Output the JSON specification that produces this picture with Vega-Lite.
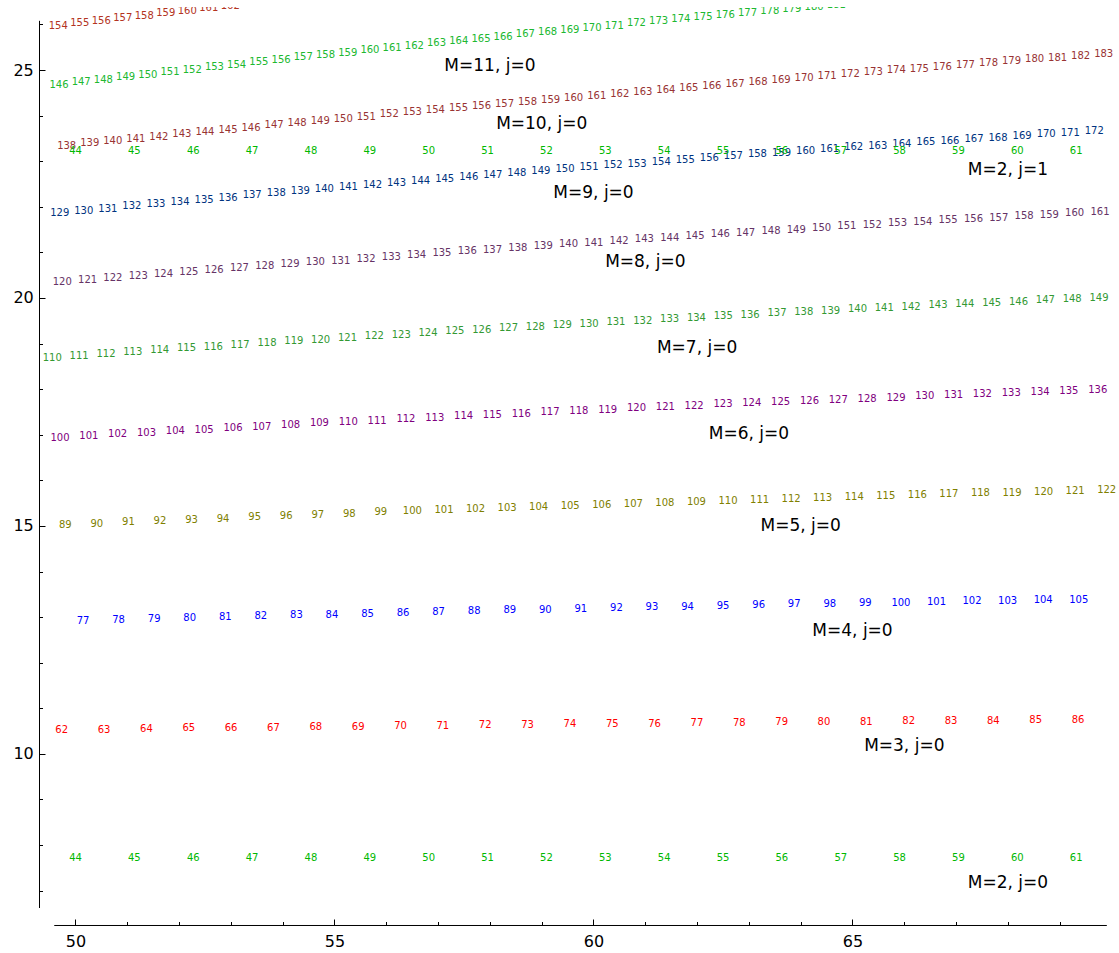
{
"$schema": "https://vega.github.io/schema/vega-lite/v6.json",
"width": 1080, "height": 901,
"autosize": {"type": "none"},
"padding": {"left": 39, "top": 7, "right": 0, "bottom": 45},
"background": "white",
"config": {"view": {"stroke": null}},
"resolve": {"axis": {"x": "independent", "y": "independent"}},
"datasets": {
"nums": [
{"s":"2a","n":44,"x":50.000,"y":7.706},{"s":"2a","n":45,"x":51.136,"y":7.706},{"s":"2a","n":46,"x":52.273,"y":7.706},{"s":"2a","n":47,"x":53.409,"y":7.706},{"s":"2a","n":48,"x":54.545,"y":7.706},{"s":"2a","n":49,"x":55.682,"y":7.706},{"s":"2a","n":50,"x":56.818,"y":7.706},{"s":"2a","n":51,"x":57.955,"y":7.706},{"s":"2a","n":52,"x":59.091,"y":7.706},{"s":"2a","n":53,"x":60.227,"y":7.706},{"s":"2a","n":54,"x":61.364,"y":7.706},{"s":"2a","n":55,"x":62.500,"y":7.706},{"s":"2a","n":56,"x":63.636,"y":7.706},{"s":"2a","n":57,"x":64.773,"y":7.706},{"s":"2a","n":58,"x":65.909,"y":7.706},{"s":"2a","n":59,"x":67.045,"y":7.706},{"s":"2a","n":60,"x":68.182,"y":7.706},{"s":"2a","n":61,"x":69.318,"y":7.706},
{"s":"3","n":62,"x":49.734,"y":10.524},{"s":"3","n":63,"x":50.552,"y":10.535},{"s":"3","n":64,"x":51.369,"y":10.547},{"s":"3","n":65,"x":52.187,"y":10.558},{"s":"3","n":66,"x":53.004,"y":10.569},{"s":"3","n":67,"x":53.822,"y":10.579},{"s":"3","n":68,"x":54.639,"y":10.590},{"s":"3","n":69,"x":55.457,"y":10.600},{"s":"3","n":70,"x":56.274,"y":10.610},{"s":"3","n":71,"x":57.092,"y":10.620},{"s":"3","n":72,"x":57.909,"y":10.629},{"s":"3","n":73,"x":58.727,"y":10.639},{"s":"3","n":74,"x":59.544,"y":10.648},{"s":"3","n":75,"x":60.362,"y":10.657},{"s":"3","n":76,"x":61.179,"y":10.666},{"s":"3","n":77,"x":61.997,"y":10.674},{"s":"3","n":78,"x":62.814,"y":10.683},{"s":"3","n":79,"x":63.632,"y":10.691},{"s":"3","n":80,"x":64.449,"y":10.699},{"s":"3","n":81,"x":65.267,"y":10.707},{"s":"3","n":82,"x":66.084,"y":10.715},{"s":"3","n":83,"x":66.902,"y":10.722},{"s":"3","n":84,"x":67.719,"y":10.729},{"s":"3","n":85,"x":68.537,"y":10.736},{"s":"3","n":86,"x":69.354,"y":10.743},
{"s":"4","n":77,"x":50.145,"y":12.908},{"s":"4","n":78,"x":50.832,"y":12.930},{"s":"4","n":79,"x":51.518,"y":12.952},{"s":"4","n":80,"x":52.205,"y":12.974},{"s":"4","n":81,"x":52.891,"y":12.995},{"s":"4","n":82,"x":53.578,"y":13.015},{"s":"4","n":83,"x":54.264,"y":13.036},{"s":"4","n":84,"x":54.951,"y":13.056},{"s":"4","n":85,"x":55.637,"y":13.075},{"s":"4","n":86,"x":56.324,"y":13.094},{"s":"4","n":87,"x":57.010,"y":13.113},{"s":"4","n":88,"x":57.697,"y":13.131},{"s":"4","n":89,"x":58.383,"y":13.149},{"s":"4","n":90,"x":59.070,"y":13.167},{"s":"4","n":91,"x":59.756,"y":13.184},{"s":"4","n":92,"x":60.443,"y":13.200},{"s":"4","n":93,"x":61.129,"y":13.217},{"s":"4","n":94,"x":61.816,"y":13.233},{"s":"4","n":95,"x":62.502,"y":13.248},{"s":"4","n":96,"x":63.189,"y":13.263},{"s":"4","n":97,"x":63.875,"y":13.278},{"s":"4","n":98,"x":64.562,"y":13.293},{"s":"4","n":99,"x":65.248,"y":13.306},{"s":"4","n":100,"x":65.935,"y":13.320},{"s":"4","n":101,"x":66.621,"y":13.333},{"s":"4","n":102,"x":67.308,"y":13.346},{"s":"4","n":103,"x":67.994,"y":13.358},{"s":"4","n":104,"x":68.681,"y":13.370},{"s":"4","n":105,"x":69.367,"y":13.382},
{"s":"5","n":89,"x":49.803,"y":15.021},{"s":"5","n":90,"x":50.412,"y":15.050},{"s":"5","n":91,"x":51.021,"y":15.079},{"s":"5","n":92,"x":51.631,"y":15.107},{"s":"5","n":93,"x":52.240,"y":15.135},{"s":"5","n":94,"x":52.849,"y":15.163},{"s":"5","n":95,"x":53.458,"y":15.190},{"s":"5","n":96,"x":54.067,"y":15.217},{"s":"5","n":97,"x":54.677,"y":15.243},{"s":"5","n":98,"x":55.286,"y":15.269},{"s":"5","n":99,"x":55.895,"y":15.295},{"s":"5","n":100,"x":56.504,"y":15.320},{"s":"5","n":101,"x":57.114,"y":15.345},{"s":"5","n":102,"x":57.723,"y":15.369},{"s":"5","n":103,"x":58.332,"y":15.394},{"s":"5","n":104,"x":58.941,"y":15.417},{"s":"5","n":105,"x":59.550,"y":15.441},{"s":"5","n":106,"x":60.160,"y":15.464},{"s":"5","n":107,"x":60.769,"y":15.487},{"s":"5","n":108,"x":61.378,"y":15.509},{"s":"5","n":109,"x":61.987,"y":15.531},{"s":"5","n":110,"x":62.596,"y":15.552},{"s":"5","n":111,"x":63.206,"y":15.574},{"s":"5","n":112,"x":63.815,"y":15.594},{"s":"5","n":113,"x":64.424,"y":15.615},{"s":"5","n":114,"x":65.033,"y":15.635},{"s":"5","n":115,"x":65.642,"y":15.655},{"s":"5","n":116,"x":66.252,"y":15.674},{"s":"5","n":117,"x":66.861,"y":15.693},{"s":"5","n":118,"x":67.470,"y":15.712},{"s":"5","n":119,"x":68.079,"y":15.730},{"s":"5","n":120,"x":68.689,"y":15.748},{"s":"5","n":121,"x":69.298,"y":15.765},{"s":"5","n":122,"x":69.907,"y":15.782},
{"s":"6","n":100,"x":49.701,"y":16.936},{"s":"6","n":101,"x":50.257,"y":16.972},{"s":"6","n":102,"x":50.814,"y":17.008},{"s":"6","n":103,"x":51.370,"y":17.044},{"s":"6","n":104,"x":51.927,"y":17.079},{"s":"6","n":105,"x":52.483,"y":17.113},{"s":"6","n":106,"x":53.040,"y":17.148},{"s":"6","n":107,"x":53.596,"y":17.181},{"s":"6","n":108,"x":54.153,"y":17.215},{"s":"6","n":109,"x":54.709,"y":17.248},{"s":"6","n":110,"x":55.266,"y":17.280},{"s":"6","n":111,"x":55.822,"y":17.312},{"s":"6","n":112,"x":56.379,"y":17.344},{"s":"6","n":113,"x":56.935,"y":17.375},{"s":"6","n":114,"x":57.492,"y":17.406},{"s":"6","n":115,"x":58.048,"y":17.436},{"s":"6","n":116,"x":58.605,"y":17.466},{"s":"6","n":117,"x":59.161,"y":17.495},{"s":"6","n":118,"x":59.717,"y":17.525},{"s":"6","n":119,"x":60.274,"y":17.553},{"s":"6","n":120,"x":60.830,"y":17.581},{"s":"6","n":121,"x":61.387,"y":17.609},{"s":"6","n":122,"x":61.943,"y":17.637},{"s":"6","n":123,"x":62.500,"y":17.664},{"s":"6","n":124,"x":63.056,"y":17.690},{"s":"6","n":125,"x":63.613,"y":17.716},{"s":"6","n":126,"x":64.169,"y":17.742},{"s":"6","n":127,"x":64.726,"y":17.767},{"s":"6","n":128,"x":65.282,"y":17.792},{"s":"6","n":129,"x":65.839,"y":17.816},{"s":"6","n":130,"x":66.395,"y":17.840},{"s":"6","n":131,"x":66.952,"y":17.864},{"s":"6","n":132,"x":67.508,"y":17.887},{"s":"6","n":133,"x":68.065,"y":17.910},{"s":"6","n":134,"x":68.621,"y":17.932},{"s":"6","n":135,"x":69.177,"y":17.954},{"s":"6","n":136,"x":69.734,"y":17.975},
{"s":"7","n":110,"x":49.552,"y":18.690},{"s":"7","n":111,"x":50.070,"y":18.731},{"s":"7","n":112,"x":50.588,"y":18.772},{"s":"7","n":113,"x":51.106,"y":18.813},{"s":"7","n":114,"x":51.625,"y":18.853},{"s":"7","n":115,"x":52.143,"y":18.893},{"s":"7","n":116,"x":52.661,"y":18.932},{"s":"7","n":117,"x":53.179,"y":18.971},{"s":"7","n":118,"x":53.697,"y":19.010},{"s":"7","n":119,"x":54.215,"y":19.048},{"s":"7","n":120,"x":54.733,"y":19.086},{"s":"7","n":121,"x":55.251,"y":19.123},{"s":"7","n":122,"x":55.770,"y":19.160},{"s":"7","n":123,"x":56.288,"y":19.196},{"s":"7","n":124,"x":56.806,"y":19.232},{"s":"7","n":125,"x":57.324,"y":19.268},{"s":"7","n":126,"x":57.842,"y":19.303},{"s":"7","n":127,"x":58.360,"y":19.338},{"s":"7","n":128,"x":58.878,"y":19.373},{"s":"7","n":129,"x":59.396,"y":19.407},{"s":"7","n":130,"x":59.915,"y":19.440},{"s":"7","n":131,"x":60.433,"y":19.473},{"s":"7","n":132,"x":60.951,"y":19.506},{"s":"7","n":133,"x":61.469,"y":19.538},{"s":"7","n":134,"x":61.987,"y":19.570},{"s":"7","n":135,"x":62.505,"y":19.602},{"s":"7","n":136,"x":63.023,"y":19.633},{"s":"7","n":137,"x":63.542,"y":19.664},{"s":"7","n":138,"x":64.060,"y":19.694},{"s":"7","n":139,"x":64.578,"y":19.724},{"s":"7","n":140,"x":65.096,"y":19.753},{"s":"7","n":141,"x":65.614,"y":19.782},{"s":"7","n":142,"x":66.132,"y":19.811},{"s":"7","n":143,"x":66.650,"y":19.839},{"s":"7","n":144,"x":67.168,"y":19.867},{"s":"7","n":145,"x":67.687,"y":19.895},{"s":"7","n":146,"x":68.205,"y":19.922},{"s":"7","n":147,"x":68.723,"y":19.948},{"s":"7","n":148,"x":69.241,"y":19.974},{"s":"7","n":149,"x":69.759,"y":20.000},
{"s":"8","n":120,"x":49.745,"y":20.344},{"s":"8","n":121,"x":50.234,"y":20.389},{"s":"8","n":122,"x":50.722,"y":20.434},{"s":"8","n":123,"x":51.211,"y":20.479},{"s":"8","n":124,"x":51.699,"y":20.523},{"s":"8","n":125,"x":52.188,"y":20.567},{"s":"8","n":126,"x":52.677,"y":20.610},{"s":"8","n":127,"x":53.165,"y":20.653},{"s":"8","n":128,"x":53.654,"y":20.695},{"s":"8","n":129,"x":54.142,"y":20.738},{"s":"8","n":130,"x":54.631,"y":20.780},{"s":"8","n":131,"x":55.120,"y":20.821},{"s":"8","n":132,"x":55.608,"y":20.862},{"s":"8","n":133,"x":56.097,"y":20.903},{"s":"8","n":134,"x":56.586,"y":20.943},{"s":"8","n":135,"x":57.074,"y":20.983},{"s":"8","n":136,"x":57.563,"y":21.022},{"s":"8","n":137,"x":58.051,"y":21.062},{"s":"8","n":138,"x":58.540,"y":21.100},{"s":"8","n":139,"x":59.029,"y":21.139},{"s":"8","n":140,"x":59.517,"y":21.177},{"s":"8","n":141,"x":60.006,"y":21.214},{"s":"8","n":142,"x":60.494,"y":21.252},{"s":"8","n":143,"x":60.983,"y":21.288},{"s":"8","n":144,"x":61.472,"y":21.325},{"s":"8","n":145,"x":61.960,"y":21.361},{"s":"8","n":146,"x":62.449,"y":21.397},{"s":"8","n":147,"x":62.937,"y":21.432},{"s":"8","n":148,"x":63.426,"y":21.467},{"s":"8","n":149,"x":63.915,"y":21.501},{"s":"8","n":150,"x":64.403,"y":21.536},{"s":"8","n":151,"x":64.892,"y":21.569},{"s":"8","n":152,"x":65.381,"y":21.603},{"s":"8","n":153,"x":65.869,"y":21.636},{"s":"8","n":154,"x":66.358,"y":21.668},{"s":"8","n":155,"x":66.846,"y":21.701},{"s":"8","n":156,"x":67.335,"y":21.732},{"s":"8","n":157,"x":67.824,"y":21.764},{"s":"8","n":158,"x":68.312,"y":21.795},{"s":"8","n":159,"x":68.801,"y":21.826},{"s":"8","n":160,"x":69.289,"y":21.856},{"s":"8","n":161,"x":69.778,"y":21.886},
{"s":"9","n":129,"x":49.695,"y":21.864},{"s":"9","n":130,"x":50.159,"y":21.914},{"s":"9","n":131,"x":50.624,"y":21.963},{"s":"9","n":132,"x":51.088,"y":22.012},{"s":"9","n":133,"x":51.553,"y":22.060},{"s":"9","n":134,"x":52.017,"y":22.108},{"s":"9","n":135,"x":52.482,"y":22.156},{"s":"9","n":136,"x":52.946,"y":22.203},{"s":"9","n":137,"x":53.411,"y":22.250},{"s":"9","n":138,"x":53.875,"y":22.297},{"s":"9","n":139,"x":54.340,"y":22.343},{"s":"9","n":140,"x":54.804,"y":22.389},{"s":"9","n":141,"x":55.269,"y":22.434},{"s":"9","n":142,"x":55.733,"y":22.479},{"s":"9","n":143,"x":56.198,"y":22.524},{"s":"9","n":144,"x":56.662,"y":22.568},{"s":"9","n":145,"x":57.127,"y":22.612},{"s":"9","n":146,"x":57.591,"y":22.656},{"s":"9","n":147,"x":58.056,"y":22.699},{"s":"9","n":148,"x":58.520,"y":22.742},{"s":"9","n":149,"x":58.985,"y":22.784},{"s":"9","n":150,"x":59.449,"y":22.826},{"s":"9","n":151,"x":59.914,"y":22.868},{"s":"9","n":152,"x":60.378,"y":22.909},{"s":"9","n":153,"x":60.843,"y":22.950},{"s":"9","n":154,"x":61.307,"y":22.991},{"s":"9","n":155,"x":61.772,"y":23.031},{"s":"9","n":156,"x":62.236,"y":23.071},{"s":"9","n":157,"x":62.701,"y":23.110},{"s":"9","n":158,"x":63.165,"y":23.149},{"s":"9","n":159,"x":63.630,"y":23.188},{"s":"9","n":160,"x":64.094,"y":23.226},{"s":"9","n":161,"x":64.559,"y":23.264},{"s":"9","n":162,"x":65.023,"y":23.302},{"s":"9","n":163,"x":65.488,"y":23.339},{"s":"9","n":164,"x":65.952,"y":23.376},{"s":"9","n":165,"x":66.417,"y":23.412},{"s":"9","n":166,"x":66.881,"y":23.448},{"s":"9","n":167,"x":67.346,"y":23.484},{"s":"9","n":168,"x":67.810,"y":23.519},{"s":"9","n":169,"x":68.275,"y":23.554},{"s":"9","n":170,"x":68.739,"y":23.589},{"s":"9","n":171,"x":69.204,"y":23.623},{"s":"9","n":172,"x":69.668,"y":23.657},
{"s":"10","n":138,"x":49.830,"y":23.338},{"s":"10","n":139,"x":50.275,"y":23.389},{"s":"10","n":140,"x":50.720,"y":23.440},{"s":"10","n":141,"x":51.165,"y":23.490},{"s":"10","n":142,"x":51.609,"y":23.540},{"s":"10","n":143,"x":52.054,"y":23.590},{"s":"10","n":144,"x":52.499,"y":23.640},{"s":"10","n":145,"x":52.944,"y":23.689},{"s":"10","n":146,"x":53.389,"y":23.738},{"s":"10","n":147,"x":53.834,"y":23.787},{"s":"10","n":148,"x":54.279,"y":23.835},{"s":"10","n":149,"x":54.724,"y":23.884},{"s":"10","n":150,"x":55.168,"y":23.931},{"s":"10","n":151,"x":55.613,"y":23.979},{"s":"10","n":152,"x":56.058,"y":24.026},{"s":"10","n":153,"x":56.503,"y":24.073},{"s":"10","n":154,"x":56.948,"y":24.120},{"s":"10","n":155,"x":57.393,"y":24.166},{"s":"10","n":156,"x":57.838,"y":24.213},{"s":"10","n":157,"x":58.283,"y":24.258},{"s":"10","n":158,"x":58.727,"y":24.304},{"s":"10","n":159,"x":59.172,"y":24.349},{"s":"10","n":160,"x":59.617,"y":24.394},{"s":"10","n":161,"x":60.062,"y":24.439},{"s":"10","n":162,"x":60.507,"y":24.483},{"s":"10","n":163,"x":60.952,"y":24.527},{"s":"10","n":164,"x":61.397,"y":24.571},{"s":"10","n":165,"x":61.841,"y":24.615},{"s":"10","n":166,"x":62.286,"y":24.658},{"s":"10","n":167,"x":62.731,"y":24.701},{"s":"10","n":168,"x":63.176,"y":24.744},{"s":"10","n":169,"x":63.621,"y":24.786},{"s":"10","n":170,"x":64.066,"y":24.828},{"s":"10","n":171,"x":64.511,"y":24.870},{"s":"10","n":172,"x":64.956,"y":24.911},{"s":"10","n":173,"x":65.400,"y":24.952},{"s":"10","n":174,"x":65.845,"y":24.993},{"s":"10","n":175,"x":66.290,"y":25.034},{"s":"10","n":176,"x":66.735,"y":25.074},{"s":"10","n":177,"x":67.180,"y":25.114},{"s":"10","n":178,"x":67.625,"y":25.154},{"s":"10","n":179,"x":68.070,"y":25.194},{"s":"10","n":180,"x":68.515,"y":25.233},{"s":"10","n":181,"x":68.959,"y":25.272},{"s":"10","n":182,"x":69.404,"y":25.310},{"s":"10","n":183,"x":69.849,"y":25.349},
{"s":"11","n":146,"x":49.681,"y":24.679},{"s":"11","n":147,"x":50.110,"y":24.735},{"s":"11","n":148,"x":50.539,"y":24.791},{"s":"11","n":149,"x":50.967,"y":24.847},{"s":"11","n":150,"x":51.396,"y":24.902},{"s":"11","n":151,"x":51.825,"y":24.956},{"s":"11","n":152,"x":52.254,"y":25.011},{"s":"11","n":153,"x":52.682,"y":25.065},{"s":"11","n":154,"x":53.111,"y":25.119},{"s":"11","n":155,"x":53.540,"y":25.172},{"s":"11","n":156,"x":53.969,"y":25.225},{"s":"11","n":157,"x":54.397,"y":25.277},{"s":"11","n":158,"x":54.826,"y":25.330},{"s":"11","n":159,"x":55.255,"y":25.381},{"s":"11","n":160,"x":55.684,"y":25.433},{"s":"11","n":161,"x":56.113,"y":25.484},{"s":"11","n":162,"x":56.541,"y":25.535},{"s":"11","n":163,"x":56.970,"y":25.585},{"s":"11","n":164,"x":57.399,"y":25.635},{"s":"11","n":165,"x":57.828,"y":25.685},{"s":"11","n":166,"x":58.256,"y":25.734},{"s":"11","n":167,"x":58.685,"y":25.783},{"s":"11","n":168,"x":59.114,"y":25.832},{"s":"11","n":169,"x":59.543,"y":25.880},{"s":"11","n":170,"x":59.971,"y":25.928},{"s":"11","n":171,"x":60.400,"y":25.976},{"s":"11","n":172,"x":60.829,"y":26.023},{"s":"11","n":173,"x":61.258,"y":26.070},{"s":"11","n":174,"x":61.687,"y":26.116},{"s":"11","n":175,"x":62.115,"y":26.162},{"s":"11","n":176,"x":62.544,"y":26.208},{"s":"11","n":177,"x":62.973,"y":26.253},{"s":"11","n":178,"x":63.402,"y":26.298},{"s":"11","n":179,"x":63.830,"y":26.343},{"s":"11","n":180,"x":64.259,"y":26.387},{"s":"11","n":181,"x":64.688,"y":26.431},{"s":"11","n":182,"x":65.117,"y":26.475},{"s":"11","n":183,"x":65.545,"y":26.518},
{"s":"12","n":154,"x":49.668,"y":25.973},{"s":"12","n":155,"x":50.083,"y":26.029},{"s":"12","n":156,"x":50.498,"y":26.085},{"s":"12","n":157,"x":50.913,"y":26.141},{"s":"12","n":158,"x":51.328,"y":26.196},{"s":"12","n":159,"x":51.743,"y":26.251},{"s":"12","n":160,"x":52.158,"y":26.306},{"s":"12","n":161,"x":52.573,"y":26.360},{"s":"12","n":162,"x":52.988,"y":26.414},{"s":"12","n":163,"x":53.404,"y":26.468},
{"s":"2b","n":44,"x":50.000,"y":23.231},{"s":"2b","n":45,"x":51.136,"y":23.231},{"s":"2b","n":46,"x":52.273,"y":23.231},{"s":"2b","n":47,"x":53.409,"y":23.231},{"s":"2b","n":48,"x":54.545,"y":23.231},{"s":"2b","n":49,"x":55.682,"y":23.231},{"s":"2b","n":50,"x":56.818,"y":23.231},{"s":"2b","n":51,"x":57.955,"y":23.231},{"s":"2b","n":52,"x":59.091,"y":23.231},{"s":"2b","n":53,"x":60.227,"y":23.231},{"s":"2b","n":54,"x":61.364,"y":23.231},{"s":"2b","n":55,"x":62.500,"y":23.231},{"s":"2b","n":56,"x":63.636,"y":23.231},{"s":"2b","n":57,"x":64.773,"y":23.231},{"s":"2b","n":58,"x":65.909,"y":23.231},{"s":"2b","n":59,"x":67.045,"y":23.231},{"s":"2b","n":60,"x":68.182,"y":23.231},{"s":"2b","n":61,"x":69.318,"y":23.231}
],
"mlab": [
{"t":"M=11, j=0","x":58,"y":25.095},
{"t":"M=10, j=0","x":59,"y":23.814},
{"t":"M=9, j=0","x":60,"y":22.294},
{"t":"M=8, j=0","x":61,"y":20.785},
{"t":"M=7, j=0","x":62,"y":18.899},
{"t":"M=6, j=0","x":63,"y":17.006},
{"t":"M=5, j=0","x":64,"y":14.995},
{"t":"M=4, j=0","x":65,"y":12.691},
{"t":"M=3, j=0","x":66,"y":10.184},
{"t":"M=2, j=0","x":68,"y":7.170},
{"t":"M=2, j=1","x":68,"y":22.797}
]
},
"layer": [
{
"data": {"name": "nums"},
"mark": {"type": "text", "clip": true, "fontSize": 10, "font": "DejaVu Sans", "align": "center", "baseline": "middle"},
"encoding": {
"x": {"field": "x", "type": "quantitative",
 "scale": {"domain": [49.2954, 70.1448], "nice": false, "zero": false},
 "axis": {"orient": "bottom", "values": [50,55,60,65], "tickSize": -6,
  "domain": false, "grid": false, "title": null, "offset": 17, "labelPadding": 14,
  "labelFontSize": 16, "labelFont": "DejaVu Sans", "labelColor": "black", "tickColor": "black", "tickWidth": 1,
  "labelFlush": false, "labelOverlap": false, "labelBound": false, "format": "d"}},
"y": {"field": "y", "type": "quantitative",
 "scale": {"domain": [6.6198, 26.383], "nice": false, "zero": false},
 "axis": {"orient": "left", "values": [10,15,20,25], "tickSize": -6,
  "domain": false, "grid": false, "title": null, "offset": 0, "labelPadding": 11.7,
  "labelFontSize": 16, "labelFont": "DejaVu Sans", "labelColor": "black", "tickColor": "black", "tickWidth": 1,
  "labelFlush": false, "labelOverlap": false, "labelBound": false, "format": "d"}},
"text": {"field": "n", "type": "nominal"},
"color": {"field": "s", "type": "nominal", "legend": null,
 "scale": {"domain": ["2a","2b","3","4","5","6","7","8","9","10","11","12"],
  "range": ["#00b800","#00b800","#ff0000","#0000ff","#808000","#800080","#339933","#663366","#003380","#993333","#20b830","#b33322"]}}
}
},
{
"data": {"name": "mlab"},
"mark": {"type": "text", "clip": true, "fontSize": 17, "font": "DejaVu Sans", "color": "black", "align": "center", "baseline": "middle"},
"encoding": {
"x": {"field": "x", "type": "quantitative", "scale": {"domain": [49.2954, 70.1448], "nice": false, "zero": false}, "axis": null},
"y": {"field": "y", "type": "quantitative", "scale": {"domain": [6.6198, 26.383], "nice": false, "zero": false}, "axis": null},
"text": {"field": "t", "type": "nominal"}
}
},
{
"data": {"values": [{}]},
"mark": {"type": "rule", "color": "black", "strokeWidth": 1},
"encoding": {
"x": {"datum": 49.3051, "type": "quantitative", "scale": {"domain": [49.2954, 70.1448], "nice": false, "zero": false}, "axis": null},
"y": {"datum": 6.6198, "type": "quantitative", "scale": {"domain": [6.6198, 26.383], "nice": false, "zero": false},
 "axis": {"orient": "left", "values": [7,8,9,11,12,13,14,16,17,18,19,21,22,23,24,26], "tickSize": -3.5, "labels": false,
  "domain": false, "grid": false, "title": null, "offset": 0, "tickColor": "black", "tickWidth": 1}},
"y2": {"datum": 26.08}
}
},
{
"data": {"values": [{}]},
"mark": {"type": "rule", "color": "black", "strokeWidth": 1},
"encoding": {
"x": {"datum": 49.59, "type": "quantitative", "scale": {"domain": [49.2954, 70.1448], "nice": false, "zero": false},
 "axis": {"orient": "bottom", "values": [51,52,53,54,56,57,58,59,61,62,63,64,66,67,68,69], "tickSize": -3.5, "labels": false,
  "domain": false, "grid": false, "title": null, "offset": 17, "tickColor": "black", "tickWidth": 1}},
"x2": {"datum": 69.91},
"y": {"datum": 6.236, "type": "quantitative", "scale": {"domain": [6.6198, 26.383], "nice": false, "zero": false}, "axis": null}
}
}
]
}
